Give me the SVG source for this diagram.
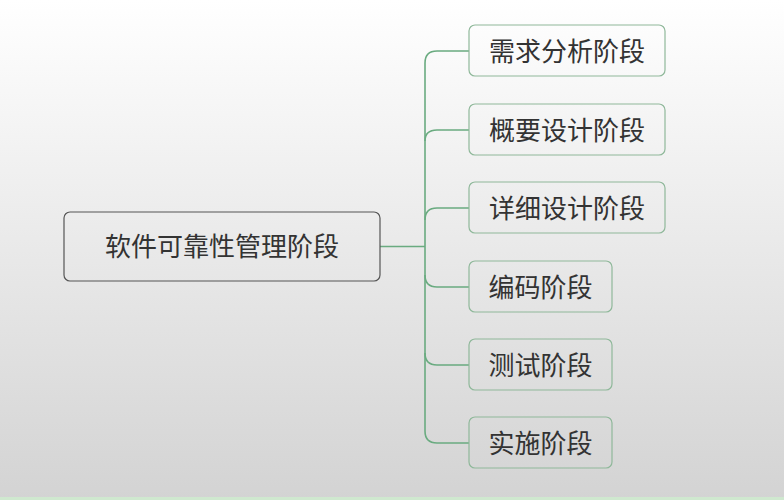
<svg xmlns="http://www.w3.org/2000/svg" width="784" height="500" viewBox="0 0 784 500">
<defs>
<linearGradient id="bg" x1="0" y1="0" x2="0" y2="1"><stop offset="0" stop-color="#ffffff"/><stop offset="1" stop-color="#d3d3d3"/></linearGradient>
<style>
.c{fill:none;stroke:#6aab80;stroke-width:1.6}
.n rect{fill:none;stroke:#8fb89a;stroke-width:1.2}
.r rect{fill:none;stroke:#555;stroke-width:1.2}
text{font-family:"Noto Sans CJK SC","Noto Sans",sans-serif;font-size:26px;fill:#333;dominant-baseline:central}
</style>
</defs>
<rect width="784" height="500" fill="url(#bg)"/>
<rect y="497" width="784" height="3" fill="#cfe8cf"/>
<g id="connectors">
<path class="c" d="M380 246.5H425"/>
<path class="c" d="M469 51H437Q425 51 425 63V431Q425 443 437 443H469"/>
<path class="c" d="M425 141Q425 130 437 130H469M425 220Q425 208 437 208H469M425 275Q425 287 437 287H469M425 353Q425 365 437 365H469"/>
</g>
<g id="root" class="r"><rect x="64" y="212" width="316" height="69" rx="6"/><text x="222" y="244.5" text-anchor="middle" font-size="29">软件可靠性管理阶段</text></g>
<g id="n1" class="n"><rect x="469" y="25" width="196" height="51" rx="6"/><text x="567" y="49" text-anchor="middle">需求分析阶段</text></g>
<g id="n2" class="n"><rect x="469" y="104" width="196" height="51" rx="6"/><text x="567" y="128" text-anchor="middle">概要设计阶段</text></g>
<g id="n3" class="n"><rect x="469" y="182" width="196" height="51" rx="6"/><text x="567" y="206" text-anchor="middle">详细设计阶段</text></g>
<g id="n4" class="n"><rect x="469" y="261" width="143" height="51" rx="6"/><text x="540.5" y="285" text-anchor="middle">编码阶段</text></g>
<g id="n5" class="n"><rect x="469" y="339" width="143" height="51" rx="6"/><text x="540.5" y="363" text-anchor="middle">测试阶段</text></g>
<g id="n6" class="n"><rect x="469" y="417" width="143" height="51" rx="6"/><text x="540.5" y="441" text-anchor="middle">实施阶段</text></g>
</svg>
